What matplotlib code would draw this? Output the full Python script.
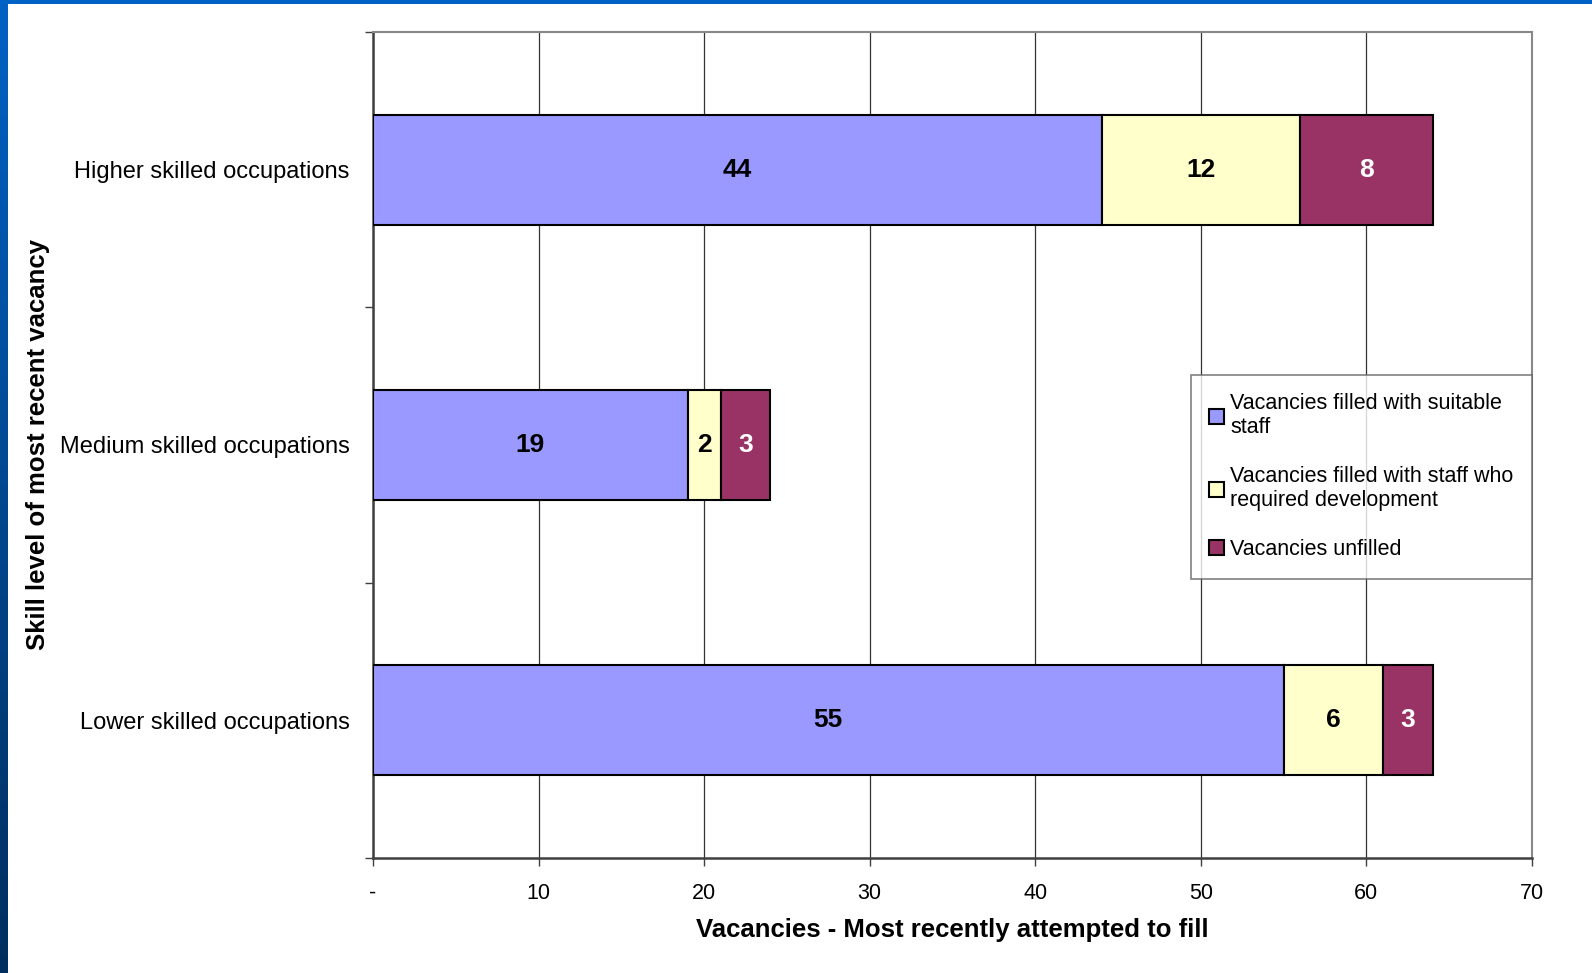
import numpy as np
import matplotlib
matplotlib.use('Agg')
import matplotlib.pyplot as plt
from matplotlib.colors import LinearSegmentedColormap
from matplotlib.patches import Rectangle

plt.rcParams['font.family'] = ['Liberation Sans', 'DejaVu Sans']

categorias = ['Lower skilled occupations', 'Medium skilled occupations', 'Higher skilled occupations']
adequados = [55, 19, 44]
desenvolvimento = [6, 2, 12]
nao_preenchidas = [3, 3, 8]

series_nomes = ['Vacancies filled with suitable\nstaff',
                'Vacancies filled with staff who\nrequired development',
                'Vacancies unfilled']
cores = ['#9999FF', '#FFFFCC', '#993366']
cor_texto = ['black', 'black', 'white']

x_ticks = [0, 10, 20, 30, 40, 50, 60, 70]
x_tick_labels = ['-', '10', '20', '30', '40', '50', '60', '70']

fig = plt.figure(figsize=(15.92, 9.73), dpi=100)

# moldura azul (esquerda com degradê, topo)
ax_borda = fig.add_axes([0, 0, 8 / 1592, 1])
grad = np.linspace(0, 1, 256).reshape(-1, 1)
cmap = LinearSegmentedColormap.from_list('borda', ['#0062C4', '#002E5E'])
ax_borda.imshow(grad, aspect='auto', cmap=cmap, extent=[0, 1, 0, 1], origin='upper')
ax_borda.axis('off')
fig.patches.append(Rectangle((0, 1 - 4 / 973), 1, 4 / 973, transform=fig.transFigure,
                             facecolor='#0062C4', edgecolor='none', zorder=10))

ax = fig.add_axes([373 / 1592, 1 - 858 / 973, (1532 - 373) / 1592, (858 - 32) / 973])

y = np.arange(len(categorias))
esquerda = np.zeros(len(categorias))
for vals, nome, cor, ct in zip([adequados, desenvolvimento, nao_preenchidas], series_nomes, cores, cor_texto):
    barras = ax.barh(y, vals, left=esquerda, height=0.4, color=cor, edgecolor='black',
                     linewidth=1.5, label=nome, zorder=3)
    ax.bar_label(barras, labels=[str(v) for v in vals], label_type='center',
                 fontsize=19, fontweight='bold', color=ct)
    esquerda += np.array(vals)

ax.set_xlim(0, 70)
ax.set_ylim(-0.5, 2.5)
ax.set_xticks(x_ticks)
ax.set_xticklabels(x_tick_labels, fontsize=15.5)
ax.set_yticks(y)
ax.set_yticklabels(categorias, fontsize=17)
ax.set_yticks([-0.5, 0.5, 1.5, 2.5], minor=True)
ax.tick_params(axis='y', which='major', length=0, pad=17)
ax.tick_params(axis='y', which='minor', length=6, width=1, color='#404040', direction='out')
ax.tick_params(axis='x', length=6, width=1, color='#404040', direction='out', pad=12)

ax.xaxis.grid(True, color='#333333', linewidth=0.9, zorder=0)
ax.set_axisbelow(True)

for lado in ['left', 'bottom']:
    ax.spines[lado].set_color('#404040')
    ax.spines[lado].set_linewidth(1.8)
for lado in ['top', 'right']:
    ax.spines[lado].set_color('#888888')
    ax.spines[lado].set_linewidth(1.5)

ax.set_xlabel('Vacancies - Most recently attempted to fill', fontsize=18.5, fontweight='bold', labelpad=10)
ax.set_ylabel('Skill level of most recent vacancy', fontsize=18.5, fontweight='bold')
ax.yaxis.set_label_coords(-0.279, 0.5)

leg = ax.legend(loc='upper right', bbox_to_anchor=(1.0, 0.585), fontsize=15.5, frameon=True,
                fancybox=False, edgecolor='#606060', handlelength=0.7, handleheight=0.7,
                handletextpad=0.3, labelspacing=1.3, borderpad=0.85, borderaxespad=0)
leg.get_frame().set_linewidth(1.2)
leg.set_zorder(5)

fig.savefig('out.png', dpi=100, facecolor='white')
